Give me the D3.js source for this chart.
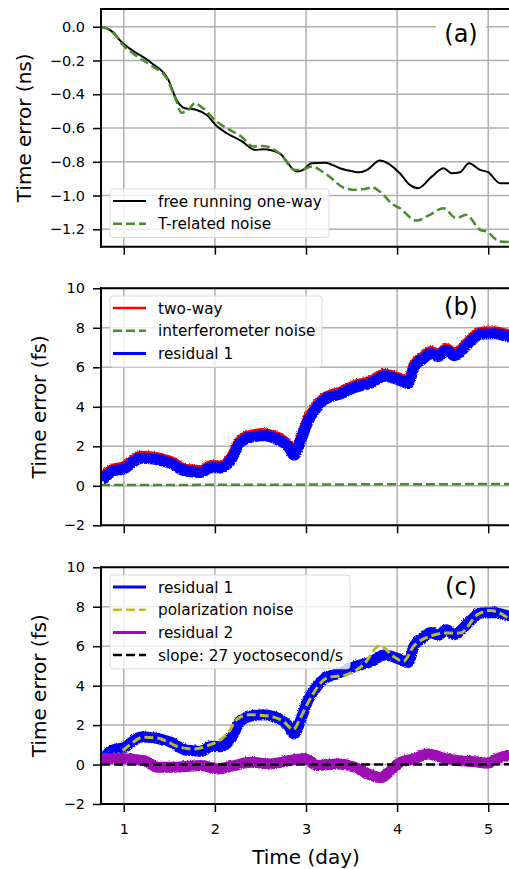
<!DOCTYPE html>
<html>
<head>
<meta charset="utf-8">
<title>Time error</title>
<style>
body { margin: 0; background: #fff; }
svg text { font-family: "DejaVu Sans", sans-serif; fill: #000; }
.tick line { stroke: #000; stroke-width: 1.5; }
.tick text { font-size: 14.5px; }
.domain { display: none; }
</style>
</head>
<body>
<script src="https://cdn.jsdelivr.net/npm/d3@7"></script>
<script>

// panel (a)
var freeDays = [0.75,0.85,0.99,1.10,1.30,1.49,1.58,1.67,1.80,1.91,2.02,2.13,2.29,2.44,2.53,2.71,2.90,2.97,3.06,3.21,3.37,3.52,3.59,3.67,3.81,4.03,4.14,4.23,4.38,4.51,4.60,4.69,4.79,4.91,5.00,5.13,5.25];
var freeNs   = [0.0,-0.02,-0.098,-0.142,-0.213,-0.315,-0.434,-0.483,-0.493,-0.523,-0.588,-0.631,-0.676,-0.73,-0.726,-0.75,-0.858,-0.848,-0.808,-0.805,-0.838,-0.858,-0.862,-0.848,-0.793,-0.868,-0.937,-0.957,-0.888,-0.838,-0.868,-0.862,-0.808,-0.848,-0.862,-0.927,-0.927];
var tempDays = [0.75,0.88,0.99,1.10,1.29,1.47,1.58,1.63,1.71,1.78,1.87,2.02,2.13,2.29,2.42,2.53,2.71,2.88,2.95,3.06,3.23,3.43,3.56,3.68,3.72,3.81,3.96,4.03,4.21,4.36,4.51,4.65,4.76,4.91,4.98,5.13,5.25];
var tempNs   = [0.0,-0.03,-0.108,-0.158,-0.227,-0.305,-0.444,-0.509,-0.493,-0.453,-0.483,-0.562,-0.601,-0.65,-0.71,-0.706,-0.75,-0.848,-0.848,-0.828,-0.877,-0.957,-0.966,-0.957,-0.95,-0.976,-1.055,-1.075,-1.148,-1.114,-1.075,-1.134,-1.114,-1.203,-1.213,-1.272,-1.275];

// panels (b) and (c)
var resDays = [0.75,0.80,0.88,0.99,1.08,1.18,1.32,1.42,1.51,1.65,1.75,1.84,1.95,2.05,2.16,2.27,2.38,2.53,2.62,2.71,2.80,2.86,2.93,3.01,3.10,3.19,3.37,3.53,3.70,3.85,4.03,4.11,4.18,4.27,4.36,4.44,4.53,4.62,4.77,4.91,5.06,5.21,5.25];
var residual1 = [0.30,0.55,0.81,0.90,1.20,1.45,1.40,1.30,1.18,0.81,0.75,0.72,0.98,0.95,1.32,2.24,2.50,2.58,2.50,2.33,2.00,1.60,2.30,3.30,3.95,4.40,4.70,5.03,5.25,5.60,5.37,5.22,6.10,6.45,6.75,6.60,6.89,6.63,7.23,7.73,7.75,7.60,7.58];
var twoWay    = [0.40,0.65,0.91,1.00,1.30,1.55,1.50,1.40,1.28,0.91,0.85,0.82,1.08,1.05,1.42,2.34,2.60,2.68,2.60,2.43,2.10,1.70,2.40,3.40,4.05,4.50,4.80,5.13,5.35,5.70,5.47,5.32,6.20,6.55,6.85,6.70,6.99,6.73,7.33,7.83,7.85,7.70,7.68];
var interDays = [0.75,1.5,2.0,2.5,3.0,3.5,4.0,4.5,5.0,5.25];
var interNoise = [0.04,0.04,0.05,0.05,0.06,0.07,0.08,0.08,0.09,0.09];

var polDays = [0.75,0.85,0.96,1.08,1.21,1.36,1.47,1.58,1.76,1.95,2.05,2.15,2.24,2.38,2.50,2.60,2.75,2.86,2.93,3.04,3.23,3.45,3.63,3.81,3.96,4.07,4.18,4.36,4.55,4.69,4.88,5.02,5.13,5.25];
var polNoise = [0.0,0.2,0.59,1.05,1.38,1.35,1.18,0.93,0.79,1.01,1.23,1.65,2.28,2.53,2.50,2.45,2.20,1.77,2.28,3.29,4.39,4.56,5.06,6.03,5.48,5.23,5.99,6.50,6.67,6.67,7.59,7.81,7.68,7.30];
var res2Days = [0.75,0.96,1.21,1.36,1.58,1.84,2.02,2.20,2.38,2.60,2.75,2.97,3.12,3.34,3.52,3.67,3.81,3.92,4.03,4.18,4.33,4.47,4.66,4.88,4.98,5.13,5.25];
var residual2 = [0.34,0.34,0.25,-0.08,-0.08,0.0,-0.17,0.0,0.17,0.08,0.2,0.34,0.0,0.08,-0.08,-0.42,-0.62,-0.25,0.17,0.34,0.59,0.42,0.25,0.17,0.12,0.42,0.51];
var slopeDays = [0.75,5.25];
var slopeLine = [0.0,0.01];

var xTicks = [1,2,3,4,5];
var yTicksA = [0.0,-0.2,-0.4,-0.6,-0.8,-1.0,-1.2];
var yTicksBC = [-2,0,2,4,6,8,10];

var w = 509, h = 869;
var left = 101, right = 511;

var svg = d3.select("body").append("svg")
  .attr("width", w)
  .attr("height", h);

var defs = svg.append("defs");
var rough = defs.append("filter")
  .attr("id", "rough")
  .attr("filterUnits", "userSpaceOnUse")
  .attr("x", 0).attr("y", 0).attr("width", w).attr("height", h);
rough.append("feTurbulence")
  .attr("type", "turbulence")
  .attr("baseFrequency", "0.9 0.6")
  .attr("numOctaves", 1)
  .attr("seed", 4)
  .attr("result", "n");
rough.append("feDisplacementMap")
  .attr("in", "SourceGraphic")
  .attr("in2", "n")
  .attr("scale", 2.5)
  .attr("xChannelSelector", "R")
  .attr("yChannelSelector", "G");

var x = d3.scaleLinear().domain([0.75, 5.25]).range([left, right]);

function minus(s) { return s.replace("-", "\u2212"); }

function panel(p) {
  var y = d3.scaleLinear().domain(p.domain).range([p.bottom, p.top]);
  var g = svg.append("g");

  defs.append("clipPath").attr("id", "clip" + p.id)
    .append("rect")
    .attr("x", left).attr("y", p.top)
    .attr("width", right - left).attr("height", p.bottom - p.top);

  // grid
  g.selectAll(".vg").data(xTicks).enter().append("line")
    .attr("x1", function(d){return x(d);}).attr("x2", function(d){return x(d);})
    .attr("y1", p.top).attr("y2", p.bottom)
    .attr("stroke", "#b0b0b0").attr("stroke-width", 1.5);
  g.selectAll(".hg").data(p.ticks).enter().append("line")
    .attr("x1", left).attr("x2", right)
    .attr("y1", function(d){return y(d);}).attr("y2", function(d){return y(d);})
    .attr("stroke", "#b0b0b0").attr("stroke-width", 1.5);

  var plot = g.append("g").attr("clip-path", "url(#clip" + p.id + ")");
  p.series.forEach(function(s) {
    var line = d3.line()
      .x(function(d){return x(d[0]);})
      .y(function(d){return y(d[1]);})
      .curve(d3.curveMonotoneX);
    var path = (s.rough ? s.group(plot) : plot).append("path")
      .datum(d3.zip(s.xs, s.ys))
      .attr("d", line)
      .attr("fill", "none")
      .attr("stroke", s.color)
      .attr("stroke-width", s.width)
      .attr("stroke-linejoin", "round");
    if (s.dash) path.attr("stroke-dasharray", s.dash);
  });

  // spines
  g.append("line").attr("x1", left).attr("x2", left).attr("y1", p.top - 1).attr("y2", p.bottom + 1)
    .attr("stroke", "#000").attr("stroke-width", 2);
  g.append("line").attr("x1", left - 1).attr("x2", right).attr("y1", p.top).attr("y2", p.top)
    .attr("stroke", "#000").attr("stroke-width", 2);
  g.append("line").attr("x1", left - 1).attr("x2", right).attr("y1", p.bottom).attr("y2", p.bottom)
    .attr("stroke", "#000").attr("stroke-width", 2);

  g.append("g")
    .attr("transform", "translate(" + left + ",0)")
    .call(d3.axisLeft(y).tickValues(p.ticks).tickSize(8).tickPadding(8)
      .tickFormat(function(d){return minus(p.fmt(d));}));

  var xa = d3.axisBottom(x).tickValues(xTicks).tickSize(8).tickPadding(12)
    .tickFormat(p.xlabels ? d3.format("d") : "");
  g.append("g")
    .attr("transform", "translate(0," + p.bottom + ")")
    .call(xa);

  g.append("text")
    .attr("transform", "translate(" + p.ylabelX + "," + ((p.top + p.bottom) / 2) + ") rotate(-90)")
    .attr("text-anchor", "middle")
    .style("font-size", "20px")
    .text(p.ylabel);

  // legend
  var lg = g.append("g");
  lg.append("rect")
    .attr("x", 110).attr("y", p.legTop)
    .attr("width", p.legW).attr("height", p.series.length * 22.7 + 3)
    .attr("rx", 3)
    .attr("fill", "#fff").attr("fill-opacity", 0.8)
    .attr("stroke", "#d9d9d9").attr("stroke-width", 1);
  p.series.forEach(function(s, i) {
    var cy = p.legTop + 12 + i * 22.7;
    var l = lg.append("line")
      .attr("x1", 113).attr("x2", 146).attr("y1", cy).attr("y2", cy)
      .attr("stroke", s.color).attr("stroke-width", s.legWidth);
    if (s.dash) l.attr("stroke-dasharray", s.dash);
    lg.append("text")
      .attr("x", 158).attr("y", cy + 5.5)
      .style("font-size", "15.3px")
      .text(s.name);
  });

  // panel tag
  if (p.tagBox) {
    g.append("rect").attr("x", 436).attr("y", 19).attr("width", 50).attr("height", 30).attr("fill", "#fff");
  }
  g.append("text")
    .attr("x", 461).attr("y", p.tagY)
    .attr("text-anchor", "middle")
    .style("font-size", "24px")
    .text(p.tag);
}

function bandGroup(parent) {
  return parent.append("g").attr("filter", "url(#rough)");
}

panel({
  id: "a", top: 9, bottom: 246.7, domain: [-1.303, 0.105], ticks: yTicksA,
  fmt: d3.format(".1f"), ylabel: "Time error (ns)", ylabelX: 31, xlabels: false,
  legTop: 189, legW: 219, tag: "(a)", tagY: 42, tagBox: true,
  series: [
    {name: "free running one-way", xs: freeDays, ys: freeNs, color: "#000", width: 2, legWidth: 2},
    {name: "T-related noise", xs: tempDays, ys: tempNs, color: "#4b8b2b", width: 2.5, legWidth: 2.5, dash: "9,4"}
  ]
});

var bandB = null;
panel({
  id: "b", top: 288.3, bottom: 525.3, domain: [-2, 10], ticks: yTicksBC,
  fmt: d3.format("d"), ylabel: "Time error (fs)", ylabelX: 46, xlabels: false,
  legTop: 296, legW: 212, tag: "(b)", tagY: 315,
  series: [
    {name: "two-way", xs: resDays, ys: twoWay, color: "#ff0000", width: 11, legWidth: 2.5, rough: true,
      group: function(pl){ bandB = bandGroup(pl); return bandB; }},
    {name: "interferometer noise", xs: interDays, ys: interNoise, color: "#4b8b2b", width: 2.5, legWidth: 2.5, dash: "9,4"},
    {name: "residual 1", xs: resDays, ys: residual1, color: "#0000ff", width: 11, legWidth: 3, rough: true,
      group: function(pl){ return bandB; }}
  ]
});

panel({
  id: "c", top: 567.3, bottom: 804, domain: [-2, 10], ticks: yTicksBC,
  fmt: d3.format("d"), ylabel: "Time error (fs)", ylabelX: 46, xlabels: true,
  legTop: 575, legW: 240, tag: "(c)", tagY: 595,
  series: [
    {name: "residual 1", xs: resDays, ys: residual1, color: "#0000ff", width: 11, legWidth: 3, rough: true, group: bandGroup},
    {name: "polarization noise", xs: polDays, ys: polNoise, color: "#bcbd22", width: 3, legWidth: 2.5, dash: "9,4"},
    {name: "residual 2", xs: res2Days, ys: residual2, color: "#9c0cb4", width: 11, legWidth: 3, rough: true, group: bandGroup},
    {name: "slope: 27 yoctosecond/s", xs: slopeDays, ys: slopeLine, color: "#000", width: 2.5, legWidth: 2.5, dash: "9,4"}
  ]
});

svg.append("text")
  .attr("x", 306).attr("y", 864)
  .attr("text-anchor", "middle")
  .style("font-size", "20px")
  .text("Time (day)");

</script>
</body>
</html>
